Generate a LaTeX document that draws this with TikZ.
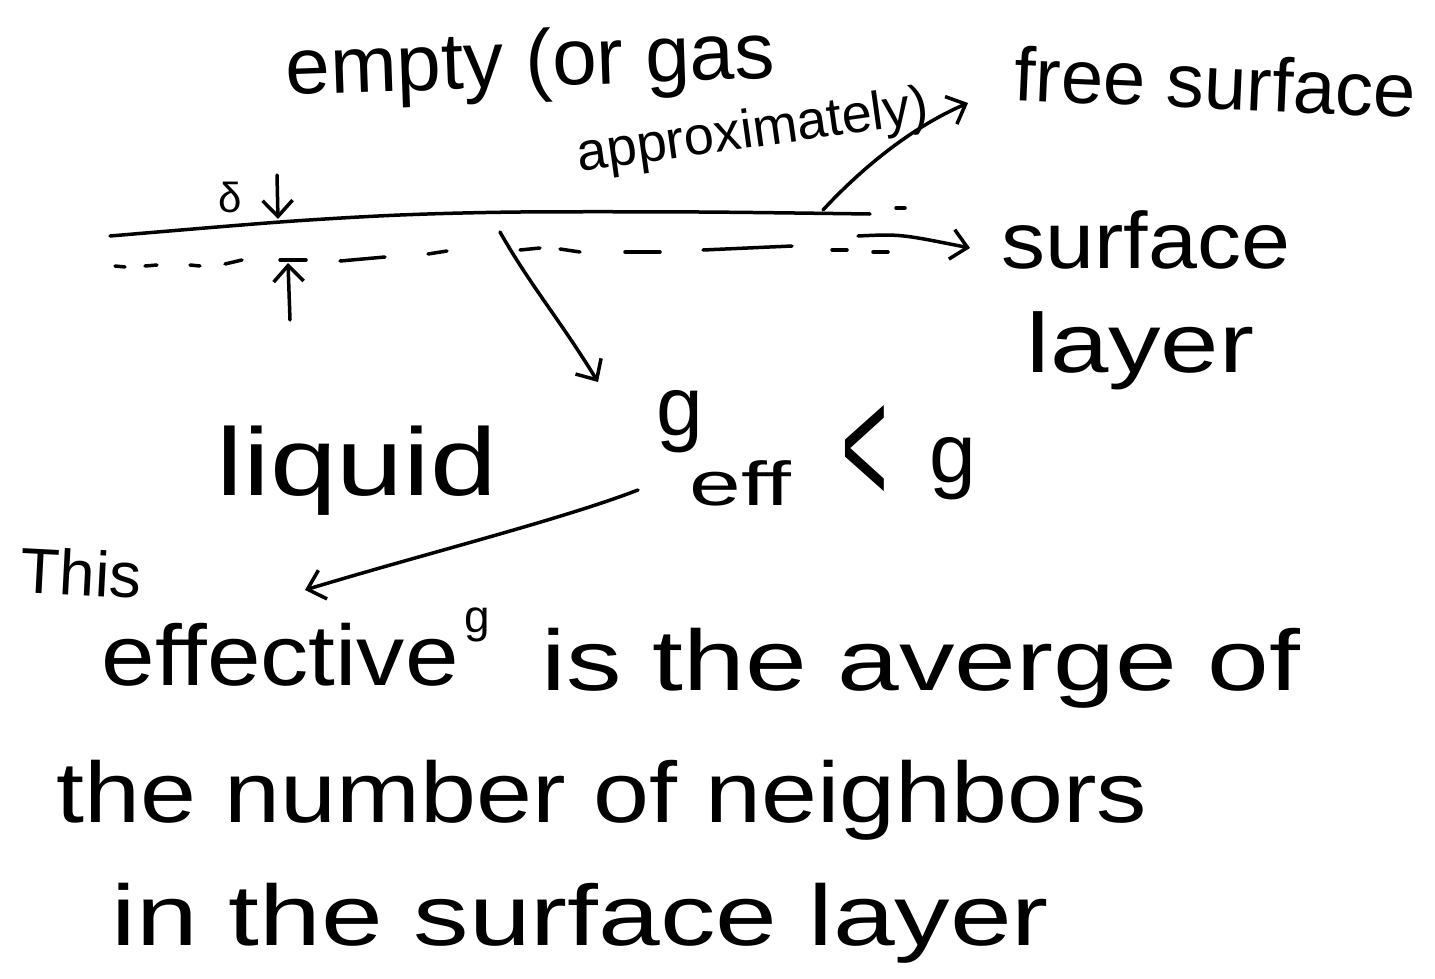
\documentclass[tikz,border=0pt]{standalone}
\usepackage{fontspec}
\setmainfont{Liberation Sans}
\usetikzlibrary{arrows.meta}
\newcommand{\fsz}[1]{\fontsize{#1}{#1}\selectfont}
\newcommand{\wide}[2]{\scalebox{#1}[1]{#2}}
\begin{document}
\begin{tikzpicture}[x=1pt,y=-1pt, line width=3.5pt, line cap=round, line join=round,
  txt/.style={inner sep=0pt, anchor=base west},
  hand/.style={-{Straight Barb[length=16pt,width=30pt,line width=3.5pt]}},
  dashseg/.style={line width=3.5pt}]
\useasboundingbox (0,0) rectangle (1435,978);
\fill[white] (0,0) rectangle (1435,978);

% texts
\node[txt, rotate=2] (empty) at (285,95) {\fsz{80}empty (or gas};
\node[txt, rotate=8] (approx) at (578,172) {\fsz{54}approximately)};
\node[txt, rotate=-2.5] (free) at (1012,100) {\fsz{76}free surface};
\node[txt] (surf) at (1000,268) {\fsz{80}\wide{1.1}{surface}};
\node[txt] (layer) at (1025,372) {\fsz{84}\wide{1.25}{layer}};
\node[txt] (liquid) at (215,495) {\fsz{96}\wide{1.25}{liquid}};
\node[txt] (g1) at (655,435) {\fsz{84}g};
\node[txt] (eff) at (688,505) {\fsz{62}\wide{1.5}{eff}};
\node[inner sep=0pt] (lt) at (865,455) {\fsz{100}\scalebox{0.8}[1.7]{<}};
\node[txt] (g2) at (928,482) {\fsz{84}g};
\node[txt, rotate=-3] (this) at (18,592) {\fsz{64}This};
\node[txt] (effective) at (100,685) {\fsz{86}\wide{1.12}{effective}};
\node[txt] (gsmall) at (463,632) {\fsz{46}g};
\node[txt] (isthe) at (540,690) {\fsz{86}\wide{1.29}{is the averge of}};
\node[txt] (number) at (55,822) {\fsz{86}\wide{1.17}{the number of neighbors}};
\node[txt] (inthe) at (110,945) {\fsz{86}\wide{1.29}{in the surface layer}};
\node[inner sep=0pt] (delta) at (230,197) {\fsz{42}δ};

% free surface (solid line)
\draw plot[smooth] coordinates {(110,236) (280,222) (400,215) (520,212) (700,212) (870,214)};
\draw (896,208) -- (905,208);

% lower boundary of surface layer (dashed)
\foreach \a/\b in {{(115,266)}/{(125,267)}, {(145,266)}/{(157,265)}, {(190,265)}/{(200,266)},
  {(225,264)}/{(242,260)}, {(280,260)}/{(306,260)}, {(340,261)}/{(385,257)}, {(428,254)}/{(447,251)},
  {(520,250)}/{(540,248)}, {(560,249)}/{(580,252)}, {(625,252)}/{(660,252)}, {(703,250)}/{(792,246)},
  {(832,250)}/{(847,250)}, {(873,252)}/{(888,252)}}
  \draw[dashseg] \a -- \b;

% coordinates for connectors
\coordinate (dTop) at (277,175);
\coordinate (dBot) at (278,219);
\coordinate (uBot) at (290,320);
\coordinate (uTop) at (288,263);
\coordinate (fsStart) at (823,210);
\coordinate (fsEnd) at (968,103);
\coordinate (slStart) at (858,236);
\coordinate (slEnd) at (970,248);
\coordinate (lqStart) at (500,232);
\coordinate (lqEnd) at (598,382);
\coordinate (gStart) at (638,490);
\coordinate (gEnd) at (305,590);

% connectors
\draw[hand] (dTop) -- (dBot);
\draw[hand] (uBot) -- (uTop);
\draw[hand] (fsStart) .. controls (860,170) and (910,128) .. (fsEnd);
\draw[hand] (slStart) .. controls (900,234) .. (slEnd);
\draw[hand] (lqStart) .. controls (530,285) and (560,320) .. (lqEnd);
\draw[hand] (gStart) .. controls (560,520) and (420,555) .. (gEnd);
\end{tikzpicture}
\end{document}
